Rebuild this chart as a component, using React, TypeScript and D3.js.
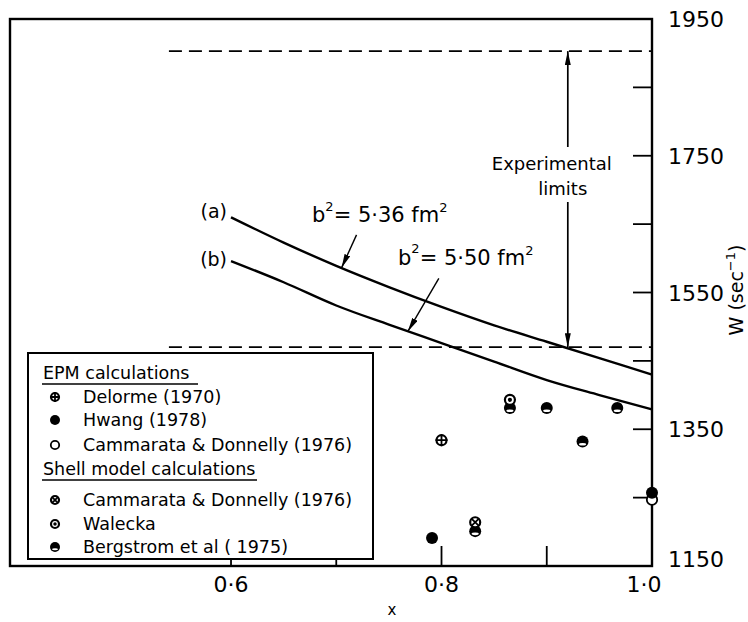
import React from 'react';
import * as d3 from 'd3';

// curves (a) and (b)
const curveX = [0.6, 0.65, 0.7, 0.75, 0.8, 0.85, 0.9, 0.95, 1.0];
const curveA = [1660, 1623, 1589, 1558, 1529, 1502, 1478, 1454, 1430];
const curveB = [1596, 1565, 1531, 1503, 1476, 1449, 1422, 1400, 1379];

// experimental limits
const expLimits = [1470, 1903];
const dashStartX = 0.541;
const expArrowX = 0.92;

// data points per reference
const delormeX = [0.8];
const delormeY = [1334];
const hwangX = [0.791, 1.0];
const hwangY = [1191, 1257];
const cammEpmX = [1.0];
const cammEpmY = [1247];
const cammShellX = [0.832];
const cammShellY = [1214];
const waleckaX = [0.865];
const waleckaY = [1393];
const bergX = [0.865, 0.9, 0.934, 0.967, 0.832];
const bergY = [1381, 1381, 1332, 1381, 1201];

const xTicks = [0.6, 0.7, 0.8, 0.9, 1.0];
const xTickLabels = ['0·6', '', '0·8', '', '1·0'];
const yTicks = [1150, 1250, 1350, 1450, 1550, 1650, 1750, 1850, 1950];
const yTickLabels = ['1150', '', '1350', '', '1550', '', '1750', '', '1950'];

const legendRows = [
  { kind: 'head', label: 'EPM calculations' },
  { kind: 'delorme', label: 'Delorme (1970)' },
  { kind: 'hwang', label: 'Hwang  (1978)' },
  { kind: 'open', label: 'Cammarata  & Donnelly (1976)' },
  { kind: 'head', label: 'Shell model calculations' },
  { kind: 'cross', label: 'Cammarata & Donnelly (1976)' },
  { kind: 'dot', label: 'Walecka' },
  { kind: 'berg', label: 'Bergstrom  et al  ( 1975)' },
];

const font = '"DejaVu Sans", sans-serif';

function Marker({ kind, cx, cy, r }: { kind: string; cx: number; cy: number; r: number }) {
  if (kind === 'hwang') return <circle cx={cx} cy={cy} r={r} fill="#000" />;
  if (kind === 'open')
    return <circle cx={cx} cy={cy} r={r - 0.8} fill="#fff" stroke="#000" strokeWidth={1.8} />;
  if (kind === 'berg')
    return (
      <g>
        <circle cx={cx} cy={cy} r={r} fill="#000" />
        <ellipse cx={cx} cy={cy + r * 0.45} rx={r * 0.6} ry={r * 0.22} fill="#fff" />
      </g>
    );
  const k = r * 0.62;
  return (
    <g>
      <circle cx={cx} cy={cy} r={r - 1} fill="#fff" stroke="#000" strokeWidth={2.2} />
      {kind === 'delorme' && (
        <path d={`M${cx - r},${cy}H${cx + r}M${cx},${cy - r}V${cy + r}`} stroke="#000" strokeWidth={1.8} />
      )}
      {kind === 'cross' && (
        <path
          d={`M${cx - k},${cy - k}L${cx + k},${cy + k}M${cx - k},${cy + k}L${cx + k},${cy - k}`}
          stroke="#000"
          strokeWidth={1.8}
        />
      )}
      {kind === 'dot' && <circle cx={cx} cy={cy} r={r * 0.35} fill="#000" />}
    </g>
  );
}

export default function App() {
  const width = 748;
  const height = 622;
  const x = d3.scaleLinear().domain([0.39, 1.0]).range([10, 652]);
  const y = d3.scaleLinear().domain([1150, 1950]).range([566, 19]);

  const line = d3
    .line<number>()
    .x((_, i) => x(curveX[i]))
    .y((d) => y(d))
    .curve(d3.curveMonotoneX);

  const points: { kind: string; xs: number[]; ys: number[] }[] = [
    { kind: 'delorme', xs: delormeX, ys: delormeY },
    { kind: 'open', xs: cammEpmX, ys: cammEpmY },
    { kind: 'hwang', xs: hwangX, ys: hwangY },
    { kind: 'berg', xs: bergX, ys: bergY },
    { kind: 'cross', xs: cammShellX, ys: cammShellY },
    { kind: 'dot', xs: waleckaX, ys: waleckaY },
  ];

  // annotation arrows for b^2 labels
  const tipA = [x(0.705), y(1586)];
  const tipB = [x(0.768), y(1493)];
  const ax = x(expArrowX);
  const yTop = y(expLimits[1]);
  const yBot = y(expLimits[0]);

  const legend = { x: 28, y: 353, w: 345, h: 206 };
  const rowY = [373, 397, 420, 445, 469, 500, 524, 547];

  return (
    <svg
      width={width}
      height={height}
      style={{ position: 'absolute', left: 0, top: 0, background: '#fff' }}
      fontFamily={font}
    >
      <defs>
        <marker id="ah" viewBox="0 0 14 6" refX="14" refY="3" markerWidth="14" markerHeight="6" orient="auto" markerUnits="userSpaceOnUse">
          <path d="M0,0L14,3L0,6Z" fill="#000" />
        </marker>
      </defs>
      <rect width={width} height={height} fill="#fff" />

      {/* frame */}
      <rect x={x(0.39)} y={y(1950)} width={x(1.0) - x(0.39)} height={y(1150) - y(1950)} fill="none" stroke="#000" strokeWidth={2.4} />

      {/* ticks */}
      {xTicks.map((t) => (
        <line key={'xt' + t} x1={x(t)} x2={x(t)} y1={y(1150)} y2={y(1150) - 20} stroke="#000" strokeWidth={1.8} />
      ))}
      {yTicks.map((t) => (
        <line key={'yt' + t} x1={x(1.0)} x2={x(1.0) - 19} y1={y(t)} y2={y(t)} stroke="#000" strokeWidth={1.8} />
      ))}
      {xTicks.map((t, i) => (
        <text key={'xl' + t} x={x(t) - (t === 1.0 ? 8 : 0)} y={y(1150) + 26} fontSize={22} textAnchor="middle">
          {xTickLabels[i]}
        </text>
      ))}
      {yTicks.map((t, i) => (
        <text key={'yl' + t} x={668} y={y(t) + (t === 1150 ? 1 : 8)} fontSize={22}>
          {yTickLabels[i]}
        </text>
      ))}
      <text x={392} y={615} fontSize={15} textAnchor="middle">x</text>
      <text transform={`translate(743,290) rotate(-90)`} fontSize={19} textAnchor="middle">
        W (sec
        <tspan dy={-8} fontSize={13}>−1</tspan>
        <tspan dy={8}>)</tspan>
      </text>

      {/* experimental limits */}
      {expLimits.map((v) => (
        <line key={'lim' + v} x1={x(dashStartX)} x2={x(1.0)} y1={y(v)} y2={y(v)} stroke="#000" strokeWidth={1.7} strokeDasharray="13,7" />
      ))}
      <line x1={ax} x2={ax} y1={147} y2={yTop} stroke="#000" strokeWidth={1.7} markerEnd="url(#ah)" />
      <line x1={ax} x2={ax} y1={202} y2={yBot} stroke="#000" strokeWidth={1.7} markerEnd="url(#ah)" />
      <text x={ax - 16} y={170} fontSize={18} textAnchor="middle">Experimental</text>
      <text x={ax - 5} y={195} fontSize={18} textAnchor="middle">limits</text>

      {/* curves */}
      <path d={line(curveA) || ''} fill="none" stroke="#000" strokeWidth={2.4} />
      <path d={line(curveB) || ''} fill="none" stroke="#000" strokeWidth={2.4} />
      <text x={x(0.6) - 4} y={y(curveA[0]) + 1} fontSize={19} textAnchor="end">(a)</text>
      <text x={x(0.6) - 4} y={y(curveB[0]) + 5} fontSize={19} textAnchor="end">(b)</text>

      <text x={312} y={222} fontSize={21}>
        b<tspan dy={-11} fontSize={13}>2</tspan>
        <tspan dy={11}>= 5·36 fm</tspan>
        <tspan dy={-10} fontSize={13}>2</tspan>
      </text>
      <text x={398} y={265} fontSize={21}>
        b<tspan dy={-12} fontSize={13}>2</tspan>
        <tspan dy={12}>= 5·50 fm</tspan>
        <tspan dy={-10} fontSize={13}>2</tspan>
      </text>
      <line x1={tipA[0] + 15} y1={tipA[1] - 33} x2={tipA[0]} y2={tipA[1]} stroke="#000" strokeWidth={1.4} markerEnd="url(#ah)" />
      <line x1={tipB[0] + 31} y1={tipB[1] - 53} x2={tipB[0]} y2={tipB[1]} stroke="#000" strokeWidth={1.4} markerEnd="url(#ah)" />

      {/* data points */}
      {points.map((s) =>
        s.xs.map((v, i) => <Marker key={s.kind + i} kind={s.kind} cx={x(v)} cy={y(s.ys[i])} r={6} />)
      )}

      {/* legend */}
      <rect x={legend.x} y={legend.y} width={legend.w} height={legend.h} fill="#fff" stroke="#000" strokeWidth={2} />
      {legendRows.map((row, i) =>
        row.kind === 'head' ? (
          <g key={'lg' + i}>
            <text x={43} y={rowY[i] + 6} fontSize={17.5}>{row.label}</text>
            <line x1={42} x2={i === 0 ? 198 : 257} y1={rowY[i] + 11} y2={rowY[i] + 11} stroke="#000" strokeWidth={1.6} />
          </g>
        ) : (
          <g key={'lg' + i}>
            <Marker kind={row.kind} cx={55} cy={rowY[i]} r={5} />
            <text x={83} y={rowY[i] + 6} fontSize={17.5}>{row.label}</text>
          </g>
        )
      )}
    </svg>
  );
}
